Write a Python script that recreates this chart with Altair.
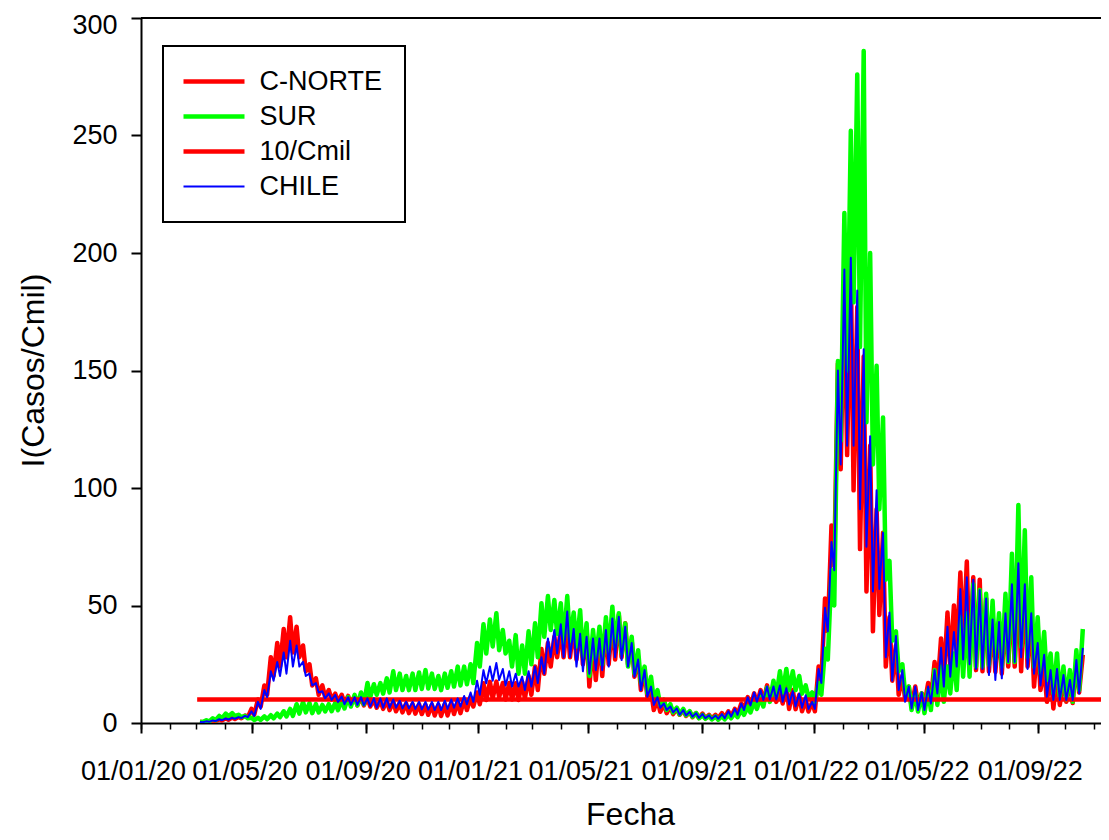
import datetime as dt
import pandas as pd
import altair as alt

# series names as they appear in the legend, and their colours / widths
SERIES = ["C-NORTE", "SUR", "10/Cmil", "CHILE"]
COLORS = ["#ff0000", "#00ff00", "#ff0000", "#0000ff"]
WIDTHS = [4.5, 4.5, 4.5, 2]

# weekly peak (Thursday) and trough (Sunday) values, first week = Monday 02/03/2020
WEEK0 = dt.date(2020, 3, 2)

NORTE_HI = [
    0.5, 0.8, 1.2, 1.6, 2.0,  2.3, 2.6, 3.2, 6,  10, 16, 28, 34,  40, 45, 41, 33, 25,
    19, 16, 14, 12.5,  12, 11.5, 11, 11, 10.5,  10, 9.5, 9.5, 9,  8.5, 8.3, 8, 8,
    7.7, 7.7, 7.7, 8, 8.5,  9, 10, 11, 13,
    16.9, 17.5, 17.6, 17,  17, 16.9, 17.5, 20,  24, 31.5, 34, 36.7, 40,  42.4, 42, 42.4, 40,
    35, 38, 42.4, 44, 46,  42.4, 35, 28, 22.5,  14, 10, 8.3, 7,  6.2, 5.5, 4.8, 4.2, 4,
    3.5, 3.5, 4.2, 5,  6, 8.3, 11, 12.6,  14, 16, 15, 14, 15.8,  14, 12, 9.9, 9,
    24, 53, 84, 153, 189,  195, 177, 156, 118,  91, 81, 45, 33,  20, 15.5, 15.5, 12.6,
    17, 26, 36, 47, 50,  64, 68.7, 62, 61,  53, 44, 43, 46.7,  56.6, 60, 60, 46.7, 35,
    24, 21.7, 21.7, 19.7,  18.3, 26.8, 29,
]
NORTE_LO = [
    0.3, 0.5, 0.8, 1.1, 1.4,  1.7, 2.0, 2.4, 3.5,  7, 12, 20, 24,  28, 30, 28, 22, 16,
    12, 11, 10, 9,  8.5, 8, 7.5, 7.5, 7,  6.5, 6, 5.5, 5,  4.5, 4.2, 4, 3.8,
    3.5, 3.2, 3, 3.2, 3.8,  4.2, 5.5, 7, 8,
    9.8, 10.5, 11, 10,  10, 9.8, 10.5, 12,  14, 21, 24, 28, 28,  28, 27, 25, 15.5,
    18.3, 20, 25, 27, 28,  25, 19.7, 14, 11.2,  5.5, 4.8, 4.2, 3.8,  3.5, 3, 2.5, 2.2, 2,
    2, 2, 2.2, 2.7,  3.5, 5.5, 7, 8,  9, 9.8, 9, 8.3, 6,  5.9, 5, 4.9, 5,
    18, 39, 67, 108, 114,  99, 74, 56, 39,  46, 24, 18, 12,  10, 7, 7.7, 7.7,
    9.8, 14, 18, 24, 29.6,  32, 24, 22.5, 22,  22, 21.7, 21, 24,  24, 22, 24, 15.5, 14,
    9, 6.2, 7.7, 9,  8.5, 13,
]
SUR_HI = [
    0.6, 1.2, 2, 3, 4,  4.2, 3.5, 3, 2.2,  2.2, 2.8, 3.3, 4,  5, 6, 8, 9, 8.5,
    8, 7.7, 8, 8.5,  9.8, 11, 12, 13, 17,  16.5, 17, 19, 22,  21, 20, 21, 21.5,
    22.5, 21, 20, 21, 22,  24, 24, 25, 34,
    42, 44, 46.7, 39.6,  35, 37.4, 33, 39,  42.4, 51, 54, 52.3, 51,  54, 47, 48, 42.4,
    39.6, 41, 45, 49.5, 46.7,  42.4, 36.7, 31, 24,  19.7, 14, 10, 8,  6.5, 6, 5, 4.2, 3.5,
    3, 2.8, 3, 3.5,  4.2, 5.5, 7, 9,  11, 15, 18, 22, 23,  22, 20, 16, 13,
    17, 31.6, 65, 154, 217,  252, 276, 286, 200,  152, 130, 69, 39,  25, 15.5, 12.6, 12.6,
    14, 22.5, 24, 24, 29.6,  45, 46.7, 59, 56.6,  55, 52, 46.7, 55,  72, 92.8, 82, 62, 45,
    38.7, 29.6, 29.6, 24,  22.5, 31, 40,
]
SUR_LO = [
    0.3, 0.6, 1.2, 2, 2.8,  3, 2.5, 2, 1.3,  1.3, 1.6, 2, 2.5,  2.8, 3, 4, 4.5, 4.2,
    4.5, 4.9, 5, 5.5,  6.2, 7, 7.5, 8, 11,  12, 12.5, 13, 14,  14, 14, 14, 14.5,
    14.7, 14.5, 14, 15, 15.5,  16, 16.5, 17, 24,
    29.6, 32.6, 31, 29.6,  24, 21, 21, 25,  28, 36.7, 39.6, 38, 34,  35, 32.6, 28, 20,
    26.8, 25, 29.6, 32.6, 29.6,  24, 21, 17, 12.6,  9.8, 7.7, 5.5, 4.5,  3.7, 3.3, 2.7, 2, 1.8,
    1.5, 1.4, 1.5, 2,  2.5, 3.5, 4.5, 6,  7, 9, 11, 13, 14,  14, 12.5, 11, 9,
    12, 27, 50, 120, 150,  179, 160, 128, 110,  91, 61, 35, 22,  12.6, 5.5, 4.9, 4.2,
    5.5, 7.7, 9, 12.6, 14,  19.7, 19.7, 24, 24,  24.7, 26.8, 24, 26,  26, 32.5, 28, 24, 21,
    18.3, 12.6, 11.2, 9.8,  9, 14,
]
CHILE_HI = [
    0.4, 0.7, 1.1, 1.6, 1.9,  2.2, 2.5, 3, 5,  9, 14, 22, 26,  30, 35, 33, 26, 21,
    17, 13.5, 12.6, 12,  11.2, 11, 11, 11, 10.5,  10.5, 10.5, 10.5, 10,  9.5, 9, 9, 9,
    9, 9, 9, 9.5, 10,  10.5, 11.5, 13, 18,
    22.5, 24, 25.5, 23,  22, 21, 19.7, 22,  24, 28, 36, 39.6, 42,  47.4, 40, 38, 36.7,
    36, 36, 39.6, 44.5, 45.2,  41, 34, 27, 22.5,  15.5, 11, 8.3, 7,  6.2, 5.5, 4.8, 4.2, 3.8,
    3.3, 3.2, 3.8, 5,  6, 8.3, 11, 13,  14, 15.5, 15.5, 16, 14.8,  13.5, 12.5, 11.8, 9,
    23, 49, 77, 150, 193,  198, 184, 159, 122,  99, 81, 47, 37,  22.5, 15.5, 15.5, 13,
    15.5, 22.5, 32, 41, 38.7,  57, 62, 61, 56.6,  53, 44, 43, 46.7,  59, 68, 59, 46.7, 34,
    29, 22.5, 23, 20.4,  18.3, 26.8, 32,
]
CHILE_LO = [
    0.3, 0.5, 0.8, 1.2, 1.5,  1.8, 2.1, 2.5, 3,  6, 11, 18, 20,  21, 24, 24, 20, 16,
    13, 10.5, 9.8, 9,  8, 7.7, 7.7, 7.5, 7,  6.5, 6.5, 6.5, 6.5,  6.2, 6.2, 6, 5.8,
    5.7, 5.5, 5.5, 6, 6.5,  7, 8, 9, 12,
    16.9, 18, 18.3, 16,  15.5, 15.5, 14, 15.5,  17, 21, 28, 29.6, 28,  28, 24, 22, 21,
    22.5, 22.5, 24, 28, 26.8,  24, 19.7, 14, 11.2,  7.7, 6.5, 5.5, 4.5,  3.5, 3.2, 2.7, 2.2, 2,
    1.8, 1.8, 2, 2.7,  3.5, 5.5, 7.5, 9,  9.8, 10, 10, 9, 7.9,  7, 6.5, 5.9, 6,
    17, 39, 65, 110, 118,  118, 91, 75, 56,  57, 28, 18, 14,  9, 6.2, 5.5, 5.5,
    8.3, 12.6, 15.5, 19.7, 24,  27, 25, 23, 23,  20.4, 18.3, 19, 26,  26, 28, 23, 21, 16,
    11.2, 9.8, 9.8, 9.8,  9.8, 12.6,
]

# reference line 10 cases per 100 000
THRESHOLD = 10
THRESHOLD_FECHAS = ["2020-03-02", "2022-12-01"]

Y_TICKS = [0, 50, 100, 150, 200, 250, 300]


def weekly_frame(name, hi, lo):
    rows = []
    for i, v in enumerate(hi):
        monday = WEEK0 + dt.timedelta(weeks=i)
        rows.append(((monday + dt.timedelta(days=3)).isoformat(), v))
        if i < len(lo):
            rows.append(((monday + dt.timedelta(days=6)).isoformat(), lo[i]))
    df = pd.DataFrame(rows, columns=["fecha", "casos"])
    df["serie"] = name
    return df


def utc(y, m, d=1, h=0):
    return alt.DateTime(year=y, month=m, date=d, hours=h, utc=True)


x_scale = alt.Scale(type="utc", domain=[utc(2020, 1, 1), utc(2022, 11, 8, 18)])
y_scale = alt.Scale(domain=[0, 300], nice=False)

major_dates = [utc(y, m) for y in (2020, 2021, 2022) for m in (1, 5, 9)]
minor_dates = [utc(2020 + k // 12, k % 12 + 1) for k in range(35)]

x_major = alt.Axis(
    values=major_dates, format="%d/%m/%y", orient="bottom", grid=False,
    tickSize=10, tickWidth=2, tickColor="black", domainColor="black", domainWidth=2,
    labelFontSize=27, labelColor="black", labelPadding=25, labelOffset=-8,
    labelFlush=False, labelOverlap=False,
    title="Fecha", titleFontSize=32, titleFontWeight="normal", titleColor="black",
    titleX=489, titleY=101, titleAlign="center", titleBaseline="alphabetic",
)
x_minor = alt.Axis(
    values=minor_dates, orient="bottom", grid=False, labels=False, domain=False,
    tickSize=6, tickWidth=1.5, tickColor="black", title=None,
)
y_axis = alt.Axis(
    values=Y_TICKS, orient="left", grid=False,
    tickSize=10, tickWidth=2, tickColor="black", domainColor="black", domainWidth=2,
    labelFontSize=27, labelColor="black", labelPadding=14, labelFlush=False,
    # the top label is nudged down so that it stays inside the page
    labelOffset={"condition": {"test": "datum.value === 300", "value": 7}, "value": 0},
    title="I(Casos/Cmil)", titleFontSize=32, titleFontWeight="normal", titleColor="black",
    titleX=-108, titleY=352, titleAngle=270, titleAlign="center", titleBaseline="middle",
)

legend = alt.Legend(
    title=None, orient="none", legendX=22, legendY=28, padding=22,
    strokeColor="black", fillColor="white",
    symbolType="M-3.05,0H3.05", symbolSize=400, symbolOffset=15.5,
    labelFontSize=27, labelColor="black", labelOffset=32, labelLimit=400, rowPadding=7,
)
color = alt.Color("serie:N", scale=alt.Scale(domain=SERIES, range=COLORS), legend=legend)
width = alt.StrokeWidth("serie:N", scale=alt.Scale(type="ordinal", domain=SERIES, range=WIDTHS), legend=legend)


def series_layer(df, x_axis=None):
    return alt.Chart(df).mark_line(clip=True, strokeJoin="round").encode(
        x=alt.X("fecha:T", scale=x_scale, axis=x_axis),
        y=alt.Y("casos:Q", scale=y_scale, axis=y_axis),
        color=color,
        strokeWidth=width,
    )


norte = series_layer(weekly_frame("C-NORTE", NORTE_HI, NORTE_LO), x_major)
sur = series_layer(weekly_frame("SUR", SUR_HI, SUR_LO))
chile = series_layer(weekly_frame("CHILE", CHILE_HI, CHILE_LO))

umbral_df = pd.DataFrame({"fecha": THRESHOLD_FECHAS, "casos": [THRESHOLD] * 2, "serie": "10/Cmil"})
umbral = alt.Chart(umbral_df).mark_line(clip=True).encode(
    x=alt.X("fecha:T", scale=x_scale, axis=x_minor),
    y=alt.Y("casos:Q", scale=y_scale, axis=y_axis),
    color=color,
    strokeWidth=width,
)

# frame line along the top of the plot
techo = alt.Chart(pd.DataFrame({"casos": [Y_TICKS[-1]]})).mark_rule(color="black", strokeWidth=2).encode(
    y=alt.Y("casos:Q", scale=y_scale, axis=y_axis)
)

chart = alt.layer(norte, sur, umbral, chile, techo).resolve_axis(x="independent").properties(
    width=960,
    height=705,
    autosize=alt.AutoSizeParams(type="none"),
    padding={"left": 133, "top": 10, "right": 0, "bottom": 109},
).configure(font="Liberation Sans").configure_view(stroke=None).configure_legend(strokeWidth=2)

chart.save("out.html", embed_options={"renderer": "svg", "actions": False})
